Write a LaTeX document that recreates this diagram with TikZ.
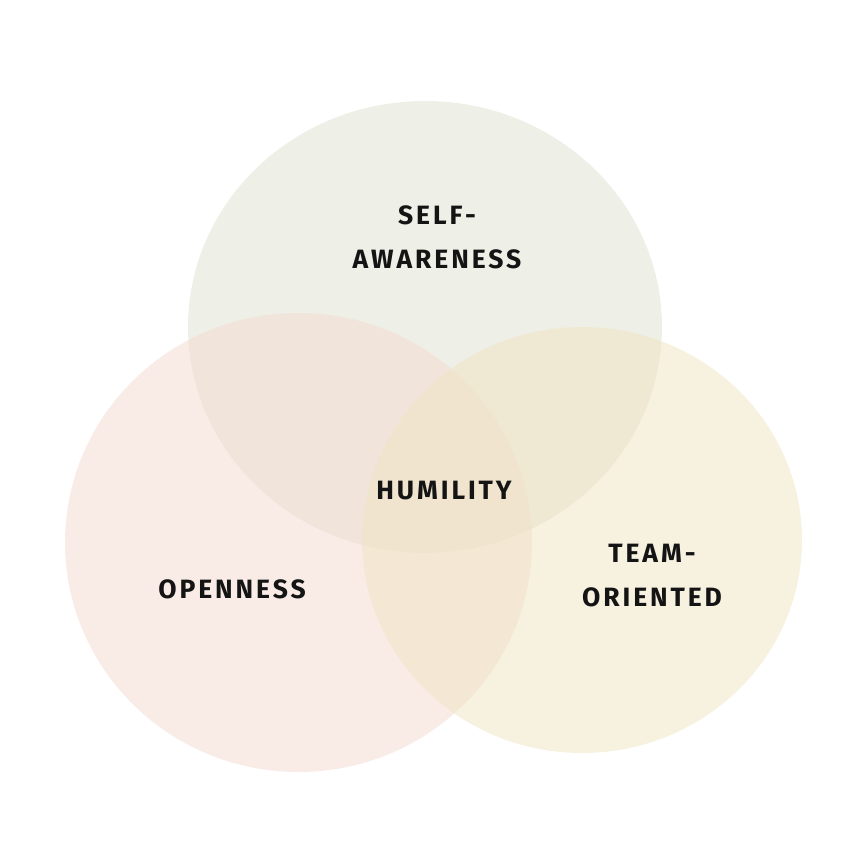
\documentclass[tikz,border=0pt]{standalone}
\usepackage{fontspec}
\setmainfont{Fira Sans}[LetterSpace=11]
\usepackage{tikz}
\usetikzlibrary{positioning}
\usepackage{xcolor}
\definecolor{sagegray}{RGB}{223,225,209}
\definecolor{softrose}{RGB}{245,219,209}
\definecolor{softsand}{RGB}{241,229,195}
\definecolor{inkblack}{RGB}{20,20,20}
\tikzset{
  blob/.style={fill opacity=0.5,draw=none},
  vlabel/.style={align=center,font=\fontsize{26.5}{44}\selectfont\bfseries,text=inkblack,inner sep=0pt}
}
\begin{document}
\begin{tikzpicture}[x=1pt,y=-1pt]
  \useasboundingbox (0,0) rectangle (868,868);
  \fill[white] (0,0) rectangle (868,868);
  % three overlapping circles
  \fill[blob,fill=sagegray] (425,327) ellipse [x radius=237,y radius=226];
  \fill[blob,fill=softrose] (298.5,542.5) ellipse [x radius=233.5,y radius=229.5];
  \fill[blob,fill=softsand] (582,540) ellipse [x radius=220,y radius=213];
  % labels
  \node[vlabel] (selfaware) at (437,237) {SELF-\\AWARENESS};
  \node[vlabel] (humility) at (444,491) {HUMILITY};
  \node[vlabel] (openness) at (232,589) {OPENNESS};
  \node[vlabel] (teamor) at (652,576) {TEAM-\\ORIENTED};
\end{tikzpicture}
\end{document}
